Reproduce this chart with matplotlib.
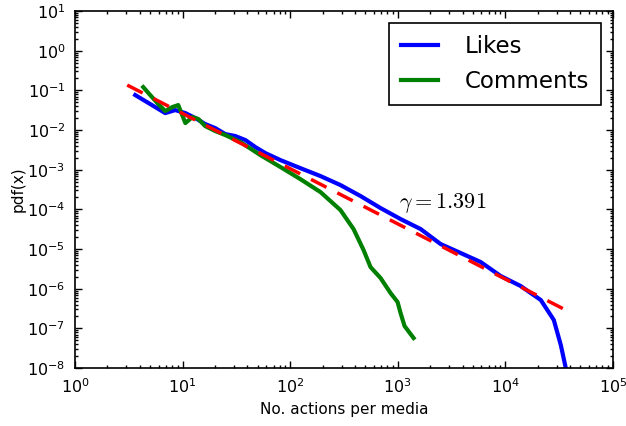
#!/usr/bin/env python3
#
# Log-log pdf of actions per media (likes, comments) with a power-law fit.

import numpy as np
import matplotlib
matplotlib.use("Agg")
import matplotlib.pyplot as plt
from matplotlib.ticker import LogLocator

# empirical pdf of likes per media
likes_x = [3.62, 4.99, 6.88, 8.53, 10.6, 13.1, 16.2, 20.1, 24.9, 30.9, 38.3,
           47.4, 58.7, 81.1, 124, 191, 293, 451, 692, 1062, 1630, 2500,
           3846, 5902, 9060, 13900, 21380, 28250, 32810, 36500]
likes_y = [0.0764, 0.0453, 0.0268, 0.0319, 0.0268, 0.0201, 0.0142, 0.0112,
           0.00793, 0.00706, 0.00560, 0.00373, 0.00263, 0.00175, 0.00110,
           6.93e-4, 4.11e-4, 2.17e-4, 1.08e-4, 5.71e-5, 3.20e-5, 1.34e-5,
           7.94e-6, 4.71e-6, 2.09e-6, 1.17e-6, 5.19e-7, 1.63e-7, 3.81e-8,
           1.0e-8]

# empirical pdf of comments per media
comments_x = [4.30, 4.99, 5.93, 6.88, 8.00, 9.10, 10.6, 12.3, 14.0, 16.2,
              20.1, 24.9, 34.4, 52.8, 81.1, 124, 191, 293, 388, 481, 558,
              692, 857, 996, 1062, 1156, 1403]
comments_y = [0.121, 0.0764, 0.0453, 0.0301, 0.0380, 0.0427, 0.0150, 0.0213,
              0.0190, 0.0126, 0.00944, 0.00748, 0.00499, 0.00234, 0.00117,
              5.82e-4, 2.74e-4, 9.64e-5, 3.20e-5, 9.44e-6, 3.52e-6, 1.86e-6,
              7.78e-7, 4.62e-7, 2.44e-7, 1.15e-7, 5.72e-8]

# power-law fit  pdf(x) = C * x^-gamma
gamma = 1.391
fit_c = 0.643
fit_range = [3.05, 35000]

fig = plt.figure(figsize=(6.26, 4.26), dpi=100)
ax = fig.add_axes([0.12, 0.136, 0.859, 0.838])

ax.plot(likes_x, likes_y, color="#0000ff", linewidth=3, label="Likes")
ax.plot(comments_x, comments_y, color="#008000", linewidth=3, label="Comments")

fit_x = np.array(fit_range, dtype=float)
ax.plot(fit_x, fit_c * fit_x ** (-gamma), color="#ff0000", linewidth=2.5,
        dashes=(5, 3.5))

ax.text(1016, 1.45e-4, r"$\gamma = %.3f$" % gamma, fontsize=16,
        math_fontfamily="cm", va="center", ha="left")

ax.set_xscale("log")
ax.set_yscale("log")
ax.set_xlim(1, 1e5)
ax.set_ylim(1e-8, 10)
ax.set_xticks([10.0 ** k for k in range(0, 6)])
ax.set_yticks([10.0 ** k for k in range(-8, 2)])
ax.xaxis.set_minor_locator(LogLocator(base=10, subs=np.arange(2, 10), numticks=30))
ax.yaxis.set_minor_locator(LogLocator(base=10, subs=np.arange(2, 10), numticks=30))
ax.tick_params(which="both", direction="in", top=True, right=True,
               labelsize=11.5, pad=7)
ax.tick_params(which="major", length=5, width=1)
ax.tick_params(which="minor", length=2.5, width=1)
for sp in ax.spines.values():
    sp.set_linewidth(1.2)

ax.set_xlabel("No. actions per media", fontsize=11)
ax.set_ylabel("pdf(x)", fontsize=11, labelpad=1)

leg = ax.legend(loc="upper right", fontsize=16.5, handlelength=1.6,
                handletextpad=1.15, borderpad=0.55, labelspacing=0.5,
                fancybox=False, framealpha=1)
leg.get_frame().set_edgecolor("black")
leg.get_frame().set_linewidth(1.2)

fig.savefig("out.png", dpi=100)
